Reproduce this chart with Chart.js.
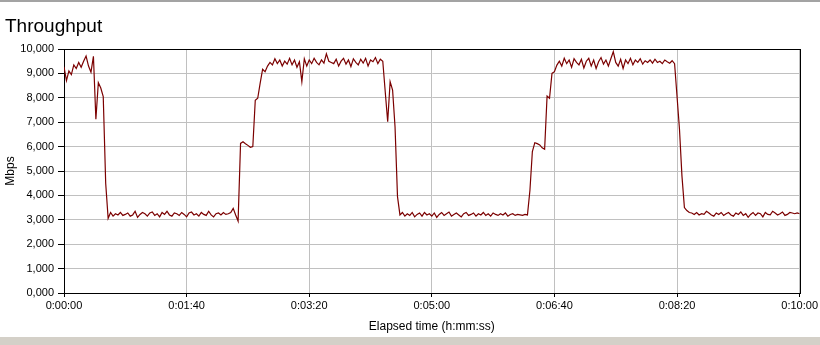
<!DOCTYPE html>
<html>
<head>
<meta charset="utf-8">
<title>Throughput</title>
<script src="https://cdn.jsdelivr.net/npm/chart.js@4.4.1/dist/chart.umd.min.js"></script>
<style>
    body { margin: 0; background: #fff; }
    #wrap { position: relative; width: 820px; height: 345px; overflow: hidden; background: #fff; }
    #topLine { position: absolute; left: 0; top: 0; width: 820px; height: 2px; background: #a3a3a3; }
    #bottomBand { position: absolute; left: 0; top: 337px; width: 820px; height: 8px; background: #d4d0c8; }
    #chart { position: absolute; left: 0; top: 0; }
</style>
</head>
<body>
<div id="wrap">
    <canvas id="chart" width="820" height="345"></canvas>
    <div id="topLine"></div>
    <div id="bottomBand"></div>
</div>
<script>
// one sample every 2 seconds, 0:00:00 .. 0:10:00
const sampleStep = 2;

const throughput = [
    9.27, 8.70, 9.10, 8.95, 9.35, 9.20, 9.45, 9.25, 9.50, 9.71,   // 0:00:00
    9.30, 9.05, 9.70, 7.12, 8.62, 8.40, 8.05, 4.50, 3.06, 3.30,   // 0:00:20
    3.15, 3.25, 3.20, 3.30, 3.18, 3.22, 3.28, 3.15, 3.20, 3.35,   // 0:00:40
    3.10, 3.22, 3.30, 3.25, 3.15, 3.28, 3.32, 3.18, 3.25, 3.12,   // 0:01:00
    3.30, 3.22, 3.35, 3.20, 3.15, 3.28, 3.25, 3.18, 3.30, 3.22,   // 0:01:20
    3.12, 3.28, 3.32, 3.20, 3.25, 3.15, 3.30, 3.22, 3.18, 3.35,   // 0:01:40
    3.20, 3.12, 3.25, 3.28, 3.20, 3.30, 3.22, 3.25, 3.30, 3.47,   // 0:02:00
    3.20, 2.95, 6.13, 6.20, 6.12, 6.05, 5.97, 6.00, 7.90, 7.98,   // 0:02:20
    8.60, 9.17, 9.07, 9.30, 9.45, 9.35, 9.60, 9.40, 9.55, 9.30,   // 0:02:40
    9.50, 9.38, 9.62, 9.35, 9.55, 9.25, 9.48, 8.66, 9.60, 9.30,   // 0:03:00
    9.55, 9.40, 9.62, 9.45, 9.35, 9.55, 9.42, 9.80, 9.50, 9.45,   // 0:03:20
    9.40, 9.58, 9.30, 9.50, 9.62, 9.38, 9.55, 9.28, 9.60, 9.45,   // 0:03:40
    9.35, 9.58, 9.42, 9.62, 9.30, 9.55, 9.48, 9.65, 9.40, 9.58,   // 0:04:00
    9.50, 8.25, 7.02, 8.66, 8.32, 6.80, 3.95, 3.20, 3.30, 3.15,   // 0:04:20
    3.25, 3.18, 3.30, 3.12, 3.22, 3.28, 3.15, 3.30, 3.20, 3.25,   // 0:04:40
    3.15, 3.28, 3.10, 3.22, 3.30, 3.18, 3.25, 3.32, 3.15, 3.22,   // 0:05:00
    3.28, 3.20, 3.12, 3.25, 3.30, 3.18, 3.22, 3.28, 3.15, 3.25,   // 0:05:20
    3.20, 3.30, 3.18, 3.25, 3.15, 3.28, 3.22, 3.18, 3.25, 3.20,   // 0:05:40
    3.28, 3.15, 3.22, 3.25, 3.18, 3.22, 3.20, 3.18, 3.22, 3.20,   // 0:06:00
    4.20, 5.80, 6.16, 6.12, 6.07, 5.95, 5.89, 8.07, 7.98, 9.00,   // 0:06:20
    9.07, 9.34, 9.50, 9.30, 9.62, 9.40, 9.55, 9.25, 9.60, 9.45,   // 0:06:40
    9.35, 9.58, 9.22, 9.50, 9.62, 9.30, 9.55, 9.20, 9.48, 9.65,   // 0:07:00
    9.38, 9.55, 9.30, 9.60, 9.89, 9.45, 9.30, 9.58, 9.20, 9.55,   // 0:07:20
    9.40, 9.62, 9.35, 9.55, 9.45, 9.60, 9.38, 9.52, 9.45, 9.55,   // 0:07:40
    9.42, 9.58, 9.45, 9.50, 9.40, 9.55, 9.48, 9.42, 9.52, 9.40,   // 0:08:00
    8.05, 6.70, 4.80, 3.50, 3.38, 3.30, 3.28, 3.22, 3.30, 3.20,   // 0:08:20
    3.25, 3.22, 3.35, 3.28, 3.20, 3.15, 3.28, 3.22, 3.30, 3.18,   // 0:08:40
    3.25, 3.30, 3.20, 3.15, 3.28, 3.22, 3.32, 3.18, 3.25, 3.10,   // 0:09:00
    3.22, 3.30, 3.18, 3.28, 3.25, 3.12, 3.30, 3.22, 3.20, 3.35,   // 0:09:20
    3.28, 3.20, 3.25, 3.32, 3.18, 3.22, 3.30, 3.28, 3.25, 3.28,   // 0:09:40
    3.25                                                          // 0:10:00
];

const xTickLabels = ['0:00:00', '0:01:40', '0:03:20', '0:05:00', '0:06:40', '0:08:20', '0:10:00'];
const yTickLabels = ['0,000', '1,000', '2,000', '3,000', '4,000', '5,000',
    '6,000', '7,000', '8,000', '9,000', '10,000'];

const fontFamily = '"Liberation Sans", Arial, sans-serif';

document.addEventListener("DOMContentLoaded", function () {
    const points = throughput.map(function (v, i) {
        return { x: i * sampleStep, y: v };
    });

    // title at top left + black frame round the plot
    const frame = {
        id: 'frame',
        beforeDatasetsDraw(chart) {
            const a = chart.chartArea;
            const ctx = chart.ctx;
            ctx.save();
            ctx.strokeStyle = '#000';
            ctx.lineWidth = 1;
            ctx.strokeRect(Math.round(a.left) + 0.5, Math.round(a.top) + 0.5,
                Math.round(a.right - a.left), Math.round(a.bottom - a.top));
            ctx.restore();
        },
        afterDraw(chart) {
            const ctx = chart.ctx;
            ctx.save();
            ctx.fillStyle = '#000';
            ctx.font = '19px ' + fontFamily;
            ctx.textBaseline = 'alphabetic';
            ctx.fillText('Throughput', 5, 32);
            ctx.restore();
        }
    };

    const ctx = document.getElementById('chart').getContext('2d');
    new Chart(ctx, {
        type: 'line',
        data: {
            datasets: [{
                label: 'Throughput',
                data: points,
                borderColor: '#7b0000',
                borderWidth: 1.2,
                pointRadius: 0,
                tension: 0,
                fill: false
            }]
        },
        options: {
            responsive: false,
            animation: false,
            layout: { padding: { top: 49, right: 20, bottom: 0, left: 0 } },
            plugins: {
                legend: { display: false },
                tooltip: { enabled: false }
            },
            scales: {
                x: {
                    type: 'linear',
                    min: 0,
                    max: 600,
                    afterFit: function (scale) { scale.height = 52; },
                    ticks: {
                        stepSize: 100,
                        color: '#000',
                        padding: 2,
                        maxRotation: 0,
                        font: { family: fontFamily, size: 11 },
                        callback: function (value) { return xTickLabels[Math.round(value / 100)]; }
                    },
                    grid: { color: '#c0c0c0', tickColor: '#000', tickLength: 4 },
                    border: { color: '#000', width: 1 },
                    title: {
                        display: true,
                        text: 'Elapsed time (h:mm:ss)',
                        color: '#000',
                        font: { family: fontFamily, size: 12 },
                        padding: { top: 0, bottom: 11 }
                    }
                },
                y: {
                    min: 0,
                    max: 10,
                    afterFit: function (scale) { scale.width = 64; },
                    ticks: {
                        stepSize: 1,
                        color: '#000',
                        padding: 4,
                        font: { family: fontFamily, size: 11 },
                        callback: function (value) { return yTickLabels[Math.round(value)]; }
                    },
                    grid: { color: '#c0c0c0', tickColor: '#000', tickLength: 6 },
                    border: { color: '#000', width: 1 },
                    title: {
                        display: true,
                        text: 'Mbps',
                        color: '#000',
                        font: { family: fontFamily, size: 12 },
                        padding: { top: 3, bottom: 0 }
                    }
                }
            }
        },
        plugins: [frame]
    });
});
</script>
</body>
</html>
